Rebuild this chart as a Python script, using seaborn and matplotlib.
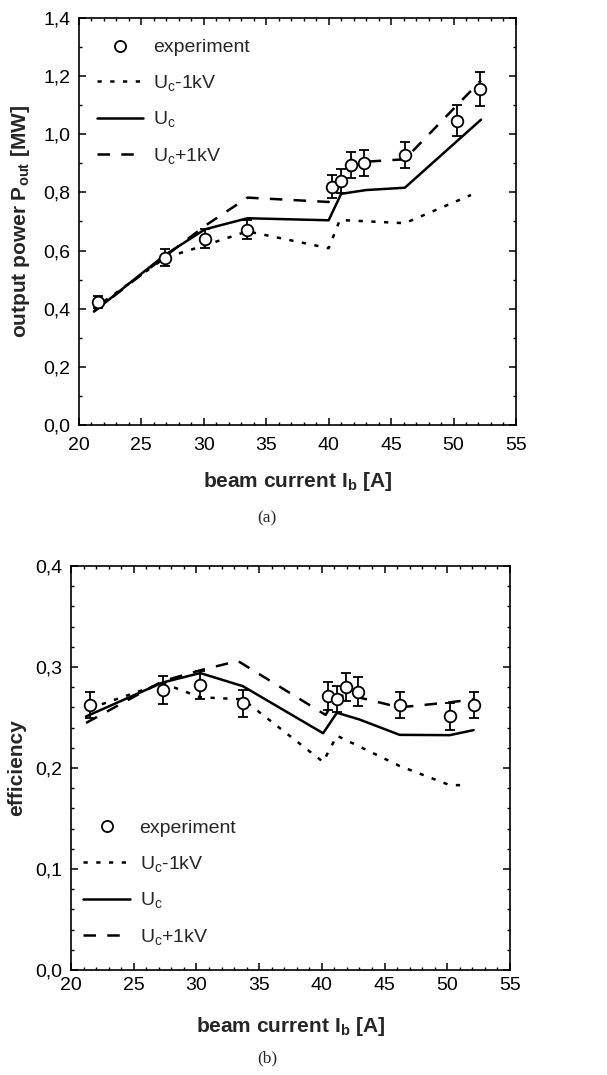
import matplotlib
matplotlib.use("Agg")
import matplotlib.pyplot as plt
from matplotlib.lines import Line2D
from matplotlib.ticker import FixedLocator, FixedFormatter, MultipleLocator
import seaborn as sns

# ---- (a) output power vs beam current ----
exp_current_a = [21.5, 26.9, 30.1, 33.5, 40.3, 41.0, 41.8, 42.8, 46.1, 50.3, 52.1]
exp_power = [0.423, 0.575, 0.641, 0.672, 0.820, 0.839, 0.893, 0.900, 0.929, 1.047, 1.156]
exp_power_err = [0.021, 0.029, 0.032, 0.034, 0.041, 0.042, 0.045, 0.045, 0.046, 0.052, 0.058]

uc_current_a = [21.2, 26.9, 30.1, 33.5, 40.0, 41.0, 43.0, 46.1, 52.2]
uc_power = [0.390, 0.585, 0.673, 0.711, 0.704, 0.795, 0.808, 0.816, 1.050]

uc_plus_current_a = [21.2, 26.9, 30.1, 33.5, 40.0, 41.8, 42.8, 46.1, 52.2]
uc_plus_power = [0.390, 0.580, 0.685, 0.782, 0.767, 0.885, 0.905, 0.914, 1.185]

uc_minus_current_a = [21.2, 26.9, 30.1, 33.5, 40.0, 40.9, 46.1, 51.4]
uc_minus_power = [0.400, 0.575, 0.618, 0.666, 0.608, 0.705, 0.694, 0.791]

# ---- (b) efficiency vs beam current ----
exp_current_b = [21.5, 27.3, 30.3, 33.7, 40.5, 41.2, 41.9, 42.9, 46.2, 50.2, 52.1]
exp_eff = [0.2626, 0.2774, 0.2823, 0.2639, 0.2715, 0.268, 0.280, 0.2757, 0.262, 0.251, 0.262]
exp_eff_err = [0.013, 0.014, 0.014, 0.013, 0.014, 0.013, 0.014, 0.014, 0.013, 0.013, 0.013]

uc_current_b = [21.2, 27.3, 30.3, 33.7, 40.1, 41.2, 43.0, 46.2, 50.2, 52.1]
uc_eff = [0.251, 0.2846, 0.294, 0.281, 0.2344, 0.2547, 0.248, 0.2328, 0.2325, 0.2375]

uc_plus_current_b = [21.2, 27.3, 30.3, 33.3, 40.3, 41.2, 42.9, 46.2, 50.2, 52.1]
uc_plus_eff = [0.2446, 0.286, 0.2967, 0.306, 0.2525, 0.272, 0.270, 0.260, 0.265, 0.268]

uc_minus_current_b = [21.5, 27.3, 30.3, 33.7, 40.1, 41.2, 46.2, 50.2, 51.6]
uc_minus_eff = [0.259, 0.284, 0.270, 0.268, 0.206, 0.232, 0.202, 0.183, 0.183]

# ticks (comma as decimal separator, like the original)
x_ticks = [20, 25, 30, 35, 40, 45, 50, 55]
x_tick_labels = ['20', '25', '30', '35', '40', '45', '50', '55']
y_ticks_a = [0.0, 0.2, 0.4, 0.6, 0.8, 1.0, 1.2, 1.4]
y_tick_labels_a = ['0,0', '0,2', '0,4', '0,6', '0,8', '1,0', '1,2', '1,4']
y_ticks_b = [0.0, 0.1, 0.2, 0.3, 0.4]
y_tick_labels_b = ['0,0', '0,1', '0,2', '0,3', '0,4']

legend_labels = ['experiment', 'U$_\\mathrm{c}$-1kV', 'U$_\\mathrm{c}$', 'U$_\\mathrm{c}$+1kV']

sns.set_theme(style="ticks")
plt.rcParams['font.family'] = ['Liberation Sans', 'DejaVu Sans']
plt.rcParams['mathtext.fontset'] = 'custom'
plt.rcParams['mathtext.rm'] = 'Liberation Sans'
plt.rcParams['mathtext.it'] = 'Liberation Sans:italic'
plt.rcParams['mathtext.bf'] = 'Liberation Sans:bold'

LW = 1.8
DOT = (0, (1.7, 3.4))
DASH = (0, (5.0, 4.5))


def draw_panel(ax, ex, ey, eerr, minus, nominal, plus):
    sns.lineplot(x=minus[0], y=minus[1], ax=ax, color='black', lw=LW, linestyle=DOT)
    sns.lineplot(x=nominal[0], y=nominal[1], ax=ax, color='black', lw=LW, linestyle='-')
    sns.lineplot(x=plus[0], y=plus[1], ax=ax, color='black', lw=LW, linestyle=DASH)
    ax.errorbar(ex, ey, yerr=eerr, fmt='none', ecolor='black', elinewidth=1.3,
                capsize=3.5, capthick=1.3, zorder=4)
    sns.scatterplot(x=ex, y=ey, ax=ax, marker='o', s=70, facecolor='white',
                    edgecolor='black', linewidth=1.3, zorder=5)


def style_axis(ax, yticks, ylabels, ylim, yminor, xlabel, ylabel, ylabelpad, xpad, xlabelpad):
    ax.set_xlim(20, 55)
    ax.set_ylim(*ylim)
    ax.xaxis.set_major_locator(FixedLocator(x_ticks))
    ax.xaxis.set_major_formatter(FixedFormatter(x_tick_labels))
    ax.xaxis.set_minor_locator(MultipleLocator(1))
    ax.yaxis.set_major_locator(FixedLocator(yticks))
    ax.yaxis.set_major_formatter(FixedFormatter(ylabels))
    ax.yaxis.set_minor_locator(MultipleLocator(yminor))
    ax.tick_params(which='both', direction='in', top=True, right=True, colors='black',
                   labelsize=14)
    ax.tick_params(which='major', length=5, width=1.1)
    ax.tick_params(which='minor', length=2.5, width=1.0)
    ax.tick_params(axis='x', which='major', pad=xpad)
    ax.tick_params(axis='y', which='major', pad=6)
    for sp in ax.spines.values():
        sp.set_linewidth(1.2)
        sp.set_color('black')
    ax.set_xlabel(xlabel, fontsize=15, fontweight='bold', labelpad=xlabelpad)
    ax.set_ylabel(ylabel, fontsize=15, fontweight='bold', labelpad=ylabelpad)


def legend_handles():
    return [
        Line2D([], [], ls='none', marker='o', ms=8, mfc='white', mec='black', mew=1.3),
        Line2D([], [], color='black', lw=LW, ls=DOT),
        Line2D([], [], color='black', lw=LW, ls='-'),
        Line2D([], [], color='black', lw=LW, ls=DASH),
    ]


fig = plt.figure(figsize=(6.07, 10.75), dpi=100)

ax_a = fig.add_axes([0.130, 0.6047, 0.720, 0.3786])
draw_panel(ax_a, exp_current_a, exp_power, exp_power_err,
           (uc_minus_current_a, uc_minus_power),
           (uc_current_a, uc_power),
           (uc_plus_current_a, uc_plus_power))
style_axis(ax_a, y_ticks_a, y_tick_labels_a, (0, 1.4), 0.1,
           'beam current I$_\\mathbf{b}$ [A]', 'output power P$_\\mathbf{out}$ [MW]', 8, 9, 11)
ax_a.legend(legend_handles(), legend_labels, loc='upper left', bbox_to_anchor=(0.023, 0.968),
            frameon=False, fontsize=14, handlelength=2.4, handletextpad=0.5,
            labelspacing=0.85, borderaxespad=0)

ax_b = fig.add_axes([0.117, 0.0977, 0.7232, 0.3758])
draw_panel(ax_b, exp_current_b, exp_eff, exp_eff_err,
           (uc_minus_current_b, uc_minus_eff),
           (uc_current_b, uc_eff),
           (uc_plus_current_b, uc_plus_eff))
style_axis(ax_b, y_ticks_b, y_tick_labels_b, (0, 0.4), 0.02,
           'beam current I$_\\mathbf{b}$ [A]', 'efficiency', 7, 5, 15)
ax_b.legend(legend_handles(), legend_labels, loc='lower left', bbox_to_anchor=(0.01, 0.038),
            frameon=False, fontsize=14, handlelength=2.4, handletextpad=0.5,
            labelspacing=0.85, borderaxespad=0)

fig.text(267 / 607, 1 - 518 / 1075, '(a)', family='Liberation Serif', fontsize=12.5,
         ha='center', va='center')
fig.text(267 / 607, 1 - 1058 / 1075, '(b)', family='Liberation Serif', fontsize=12.5,
         ha='center', va='center')

fig.savefig('out.png', dpi=100)
